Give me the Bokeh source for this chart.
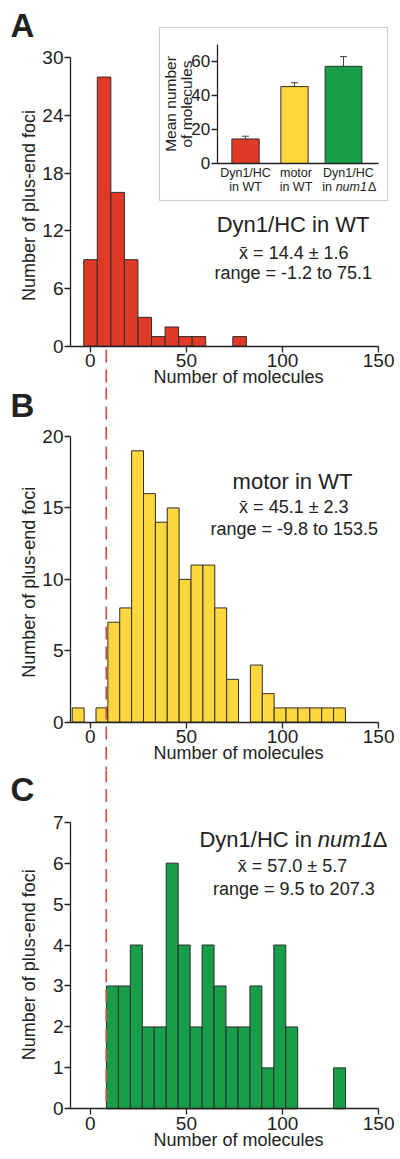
import math
from bokeh.plotting import figure
from bokeh.models import (Range1d, LinearAxis, FixedTicker, Label, BoxAnnotation,
                          Whisker, TeeHead, ColumnDataSource)
from bokeh.layouts import column
from bokeh.embed import file_html
from bokeh.resources import INLINE

FONT = "Liberation Sans"
TXT = "#222222"

# ---------------- data ----------------
# Panel A: Dyn1/HC in WT
a_edges = [-3.4, 3.65, 10.7, 17.75, 24.8, 31.85, 38.9, 45.95, 53.0, 60.05, 67.1, 74.15, 81.2]
a_counts = [9, 28, 16, 9, 3, 1, 2, 1, 1, 0, 0, 1]
# Panel B: motor in WT
b_edges = [-9.4, -3.22, 2.96, 9.14, 15.32, 21.5, 27.68, 33.86, 40.04, 46.22, 52.4, 58.58,
           64.76, 70.94, 77.12, 83.3, 89.48, 95.66, 101.84, 108.02, 114.2, 120.38, 126.56, 132.74]
b_counts = [1, 0, 1, 7, 8, 19, 16, 14, 15, 10, 11, 11, 8, 3, 0, 4, 2, 1, 1, 1, 1, 1, 1]
# Panel C: Dyn1/HC in num1Δ
c_edges = [8.4, 14.62, 20.84, 27.06, 33.28, 39.5, 45.72, 51.94, 58.16, 64.38, 70.6, 76.82,
           83.04, 89.26, 95.48, 101.7, 107.92, 114.14, 120.36, 126.58, 132.8]
c_counts = [3, 3, 4, 2, 2, 6, 4, 2, 4, 3, 2, 2, 3, 1, 4, 2, 0, 0, 0, 1]

# Inset: mean number of molecules (± s.e.m.)
inset_groups = ["Dyn1/HC in WT", "motor in WT", "Dyn1/HC in num1Δ"]
inset_pos = [1, 2, 3]
inset_means = [14.4, 45.1, 57.0]
inset_sems = [1.6, 2.3, 5.7]

# minimum of the num1Δ distribution (dashed reference line)
dash_x = 8.3

a_ticks_y = [0, 6, 12, 18, 24, 30]
b_ticks_y = [0, 5, 10, 15, 20]
c_ticks_y = [0, 1, 2, 3, 4, 5, 6, 7]
x_ticks = [0, 50, 100, 150]
X_MIN, X_MAX = -10.3, 150

RED = "#e03a26"
YELLOW = "#fdd73c"
GREEN = "#169e48"
EDGE = "#2e2e2e"
DASH = "#d9473c"

# whole canvas is the plotting frame; axes sit at fixed data locations
X_VIEW = (-46.72, 161.39)
X_PPU = 1.922          # px per x unit (all panels)
BASE_SHIFT = 0.35      # label anchor sits at text middle: baseline = anchor + 0.35 em


def style_axis(ax, size="19px"):
    ax.axis_line_width = 1.3
    ax.axis_line_color = TXT
    ax.major_tick_line_width = 1.3
    ax.major_tick_line_color = TXT
    ax.major_tick_out = 6
    ax.major_tick_in = 0
    ax.minor_tick_line_color = None
    ax.major_label_text_font = FONT
    ax.major_label_text_font_size = size
    ax.major_label_text_color = TXT


def make_panel(height, y_view, y_max, y_ticks):
    p = figure(width=400, height=height, x_range=Range1d(*X_VIEW), y_range=Range1d(*y_view),
               output_backend="svg", toolbar_location=None, min_border=0)
    p.min_border_left = p.min_border_right = p.min_border_top = p.min_border_bottom = 0
    p.grid.grid_line_color = None
    p.outline_line_color = None
    for ax in (p.xaxis[0], p.yaxis[0]):
        style_axis(ax)
    p.xaxis.fixed_location = 0
    p.xaxis.bounds = (X_MIN, X_MAX)
    p.xaxis.ticker = FixedTicker(ticks=x_ticks)
    p.xaxis.major_label_standoff = 2
    p.yaxis.fixed_location = X_MIN
    p.yaxis.bounds = (0, y_max)
    p.yaxis.ticker = FixedTicker(ticks=y_ticks)
    p.yaxis.major_label_standoff = 1
    return p


def add_hist(p, edges, counts, color):
    keep = [i for i, c in enumerate(counts) if c > 0]
    src = ColumnDataSource(dict(left=[edges[i] for i in keep], right=[edges[i + 1] for i in keep],
                                top=[counts[i] for i in keep]))
    p.quad(left="left", right="right", bottom=0, top="top", source=src,
           fill_color=color, line_color=EDGE, line_width=1)


def text(p, x, y, s, size, ppu, align="center", style="normal", vertical=False, xppu=X_PPU, **kw):
    """(x, y) is the wanted baseline point; shift anchor to the text middle."""
    em = BASE_SHIFT * size
    if vertical:
        x = x - em / xppu
    else:
        y = y + em / ppu
    p.add_layout(Label(x=x, y=y, text=s, text_font=FONT, text_font_size=f"{size}px",
                       text_align=align, text_baseline="alphabetic", text_color=TXT,
                       text_font_style=style, angle=(math.pi / 2 if vertical else 0.0), **kw))


def dashed(p, y0, y1):
    p.segment(x0=[dash_x], y0=[y0], x1=[dash_x], y1=[y1],
              line_color=DASH, line_width=1.6, line_dash="13 7")


def common_texts(p, ppu, letter, letter_y, xt_y, yt_y):
    text(p, -41.5, letter_y, letter, 33, ppu, align="left", style="bold")
    text(p, 77.1, xt_y, "Number of molecules", 18, ppu)
    text(p, -28.7, yt_y, "Number of plus-end foci", 18, ppu, vertical=True)


# ---------------- Panel A ----------------
A_PPU = 9.613
pA = make_panel(387, (-4.296, 35.962), 30, a_ticks_y)
add_hist(pA, a_edges, a_counts, RED)
dashed(pA, -0.34, -4.4)
common_texts(pA, A_PPU, "A", 32.14, -3.83, 14.64)
text(pA, 105.5, 11.86, "Dyn1/HC in WT", 22, A_PPU)
text(pA, 105.9, 9.09, "x\u0304 = 14.4 \u00b1 1.6", 18, A_PPU)
text(pA, 105.6, 6.94, "range = -1.2 to 75.1", 18, A_PPU)

# inset
pA.add_layout(BoxAnnotation(left=36.0, right=154.6, bottom=15.16, top=33.15,
                            fill_alpha=0, line_color="#555555", line_width=1))
IX_PPU, IY_PPU = 49.0, 1.705
pA.extra_x_ranges = {"ix": Range1d(-4.0, 4.163)}
pA.extra_y_ranges = {"iy": Range1d(-131.38, 95.6)}
isrc = ColumnDataSource(dict(x=inset_pos, mean=inset_means,
                             upper=[m + s for m, s in zip(inset_means, inset_sems)],
                             color=[RED, YELLOW, GREEN], width=[0.557, 0.557, 0.75]))
pA.vbar(x="x", top="mean", bottom=0, width="width", source=isrc, fill_color="color",
        line_color=EDGE, line_width=1, x_range_name="ix", y_range_name="iy")
pA.add_layout(Whisker(source=isrc, base="x", lower="mean", upper="upper", dimension="height",
                      x_range_name="ix", y_range_name="iy", line_color="#444444", line_width=1,
                      lower_head=None, upper_head=TeeHead(size=7, line_color="#444444", line_width=1)))
iy_axis = LinearAxis(x_range_name="ix", y_range_name="iy", fixed_location=0.42, bounds=(0, 70),
                     ticker=FixedTicker(ticks=[0, 20, 40, 60]))
style_axis(iy_axis, "17px")
iy_axis.major_label_standoff = 1
pA.add_layout(iy_axis, "left")
ix_axis = LinearAxis(x_range_name="ix", y_range_name="iy", fixed_location=0, bounds=(0.42, 3.71),
                     ticker=FixedTicker(ticks=[]))
style_axis(ix_axis)
ix_axis.major_tick_line_color = None
ix_axis.major_label_text_font_size = "0px"
pA.add_layout(ix_axis, "below")

ik = dict(x_range_name="ix", y_range_name="iy", xppu=IX_PPU)
text(pA, -0.4286, 34.9, "Mean number", 15.5, IY_PPU, vertical=True, **ik)
text(pA, -0.0878, 34.9, "of molecules", 15.5, IY_PPU, vertical=True, **ik)
cat_x = [1.0, 2.03, 3.1]
text(pA, cat_x[0], -8.2, "Dyn1/HC", 12.5, IY_PPU, **ik)
text(pA, cat_x[0], -16.1, "in WT", 12.5, IY_PPU, **ik)
text(pA, cat_x[1], -8.2, "motor", 12.5, IY_PPU, **ik)
text(pA, cat_x[1], -16.1, "in WT", 12.5, IY_PPU, **ik)
text(pA, cat_x[2], -8.2, "Dyn1/HC", 12.5, IY_PPU, **ik)
text(pA, 2.565, -16.1, "in ", 12.5, IY_PPU, align="left", **ik)
text(pA, 2.84, -16.1, "num1", 12.5, IY_PPU, align="left", style="italic", **ik)
text(pA, 3.50, -16.1, "\u0394", 12.5, IY_PPU, align="left", **ik)

# ---------------- Panel B ----------------
B_PPU = 14.285
pB = make_panel(383, (-3.381, 23.43), 20, b_ticks_y)
add_hist(pB, b_edges, b_counts, YELLOW)
dashed(pB, 23.5, -3.4)
common_texts(pB, B_PPU, "B", 21.33, -2.63, 9.80)
text(pB, 105.2, 16.34, "motor in WT", 22, B_PPU)
text(pB, 105.9, 14.63, "x\u0304 = 45.1 \u00b1 2.3", 18, B_PPU)
text(pB, 106.1, 13.07, "range = -9.8 to 153.5", 18, B_PPU)

# ---------------- Panel C ----------------
C_PPU = 40.943
pC = make_panel(389, (-1.238, 8.263), 7, c_ticks_y)
add_hist(pC, c_edges, c_counts, GREEN)
dashed(pC, 8.3, 0)
common_texts(pC, C_PPU, "C", 7.51, -0.92, 3.52)
text(pC, 56.8, 6.39, "Dyn1/HC in ", 22, C_PPU, align="left")
text(pC, 118.4, 6.39, "num1", 22, C_PPU, align="left", style="italic")
text(pC, 147.0, 6.39, "\u0394", 22, C_PPU, align="left")
text(pC, 105.2, 5.78, "x\u0304 = 57.0 \u00b1 5.7", 18, C_PPU)
text(pC, 105.9, 5.21, "range = 9.5 to 207.3", 18, C_PPU)

layout = column(pA, pB, pC, spacing=0)
open("out.html", "w").write(file_html(layout, INLINE))
